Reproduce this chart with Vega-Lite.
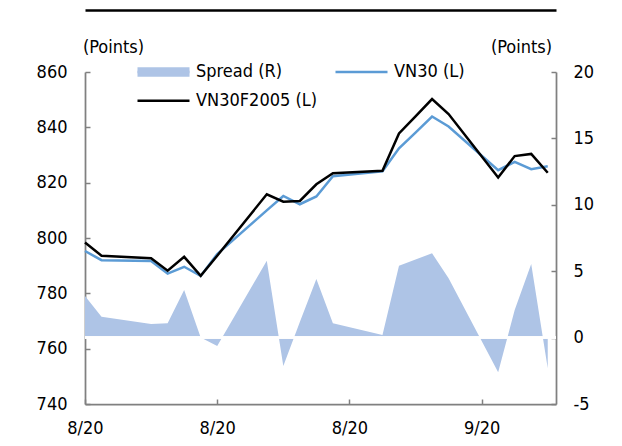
{
  "$schema": "https://vega.github.io/schema/vega-lite/v6.json",
  "width": 471,
  "height": 332,
  "autosize": "none",
  "padding": {"left": 85, "top": 72, "right": 66, "bottom": 42},
  "config": {
    "font": "DejaVu Sans Condensed, DejaVu Sans",
    "view": {"stroke": null},
    "axis": {
      "labelFontSize": 18,
      "titleFontSize": 18,
      "labelColor": "#000000",
      "titleColor": "#000000",
      "titleFontWeight": "normal",
      "domainColor": "#808080",
      "domainWidth": 1.75,
      "tickColor": "#808080",
      "tickWidth": 1.5,
      "tickSize": -5,
      "grid": false,
      "zindex": 1
    },
    "legend": {
      "title": null,
      "orient": "none",
      "legendX": 51,
      "legendY": -9,
      "columns": 2,
      "direction": "horizontal",
      "padding": 0,
      "labelFontSize": 18,
      "labelColor": "#000000",
      "labelOffset": 5,
      "symbolSize": 2704,
      "symbolStrokeWidth": 2.5,
      "clipHeight": 18,
      "rowPadding": 10.7,
      "columnPadding": 16
    }
  },
  "datasets": {
    "spread": [
      {"day": 0, "spread": 3.13},
      {"day": 1, "spread": 1.57},
      {"day": 4, "spread": 1.02},
      {"day": 5, "spread": 1.08},
      {"day": 6, "spread": 3.58},
      {"day": 7, "spread": 0.0},
      {"day": 8, "spread": -0.63},
      {"day": 11, "spread": 5.79},
      {"day": 12, "spread": -2.14},
      {"day": 13, "spread": 1.17},
      {"day": 14, "spread": 4.41},
      {"day": 15, "spread": 1.08},
      {"day": 18, "spread": 0.2},
      {"day": 19, "spread": 5.41},
      {"day": 20, "spread": 5.88},
      {"day": 21, "spread": 6.35},
      {"day": 22, "spread": 4.47},
      {"day": 25, "spread": -2.61},
      {"day": 26, "spread": 2.08},
      {"day": 27, "spread": 5.54},
      {"day": 28, "spread": -2.31}
    ],
    "lines": [
      {"day": 0, "series": "VN30 (L)", "value": 795.3},
      {"day": 1, "series": "VN30 (L)", "value": 792.0},
      {"day": 4, "series": "VN30 (L)", "value": 791.7},
      {"day": 5, "series": "VN30 (L)", "value": 787.1},
      {"day": 6, "series": "VN30 (L)", "value": 789.6},
      {"day": 7, "series": "VN30 (L)", "value": 786.3},
      {"day": 8, "series": "VN30 (L)", "value": 794.2},
      {"day": 11, "series": "VN30 (L)", "value": 810.0},
      {"day": 12, "series": "VN30 (L)", "value": 815.2},
      {"day": 13, "series": "VN30 (L)", "value": 812.2},
      {"day": 14, "series": "VN30 (L)", "value": 815.0},
      {"day": 15, "series": "VN30 (L)", "value": 822.3},
      {"day": 18, "series": "VN30 (L)", "value": 824.1},
      {"day": 19, "series": "VN30 (L)", "value": 832.4},
      {"day": 20, "series": "VN30 (L)", "value": 838.1},
      {"day": 21, "series": "VN30 (L)", "value": 843.9},
      {"day": 22, "series": "VN30 (L)", "value": 840.3},
      {"day": 25, "series": "VN30 (L)", "value": 824.5},
      {"day": 26, "series": "VN30 (L)", "value": 827.5},
      {"day": 27, "series": "VN30 (L)", "value": 824.9},
      {"day": 28, "series": "VN30 (L)", "value": 825.9},
      {"day": 0, "series": "VN30F2005 (L)", "value": 798.4},
      {"day": 1, "series": "VN30F2005 (L)", "value": 793.6},
      {"day": 4, "series": "VN30F2005 (L)", "value": 792.7},
      {"day": 5, "series": "VN30F2005 (L)", "value": 788.2},
      {"day": 6, "series": "VN30F2005 (L)", "value": 793.2},
      {"day": 7, "series": "VN30F2005 (L)", "value": 786.3},
      {"day": 8, "series": "VN30F2005 (L)", "value": 793.6},
      {"day": 11, "series": "VN30F2005 (L)", "value": 815.8},
      {"day": 12, "series": "VN30F2005 (L)", "value": 813.1},
      {"day": 13, "series": "VN30F2005 (L)", "value": 813.4},
      {"day": 14, "series": "VN30F2005 (L)", "value": 819.4},
      {"day": 15, "series": "VN30F2005 (L)", "value": 823.4},
      {"day": 18, "series": "VN30F2005 (L)", "value": 824.3},
      {"day": 19, "series": "VN30F2005 (L)", "value": 837.8},
      {"day": 20, "series": "VN30F2005 (L)", "value": 844.0},
      {"day": 21, "series": "VN30F2005 (L)", "value": 850.2},
      {"day": 22, "series": "VN30F2005 (L)", "value": 844.8},
      {"day": 25, "series": "VN30F2005 (L)", "value": 821.9},
      {"day": 26, "series": "VN30F2005 (L)", "value": 829.6},
      {"day": 27, "series": "VN30F2005 (L)", "value": 830.4},
      {"day": 28, "series": "VN30F2005 (L)", "value": 823.6}
    ]
  },
  "layer": [
    {
      "data": {"name": "spread"},
      "layer": [
        {
          "mark": {"type": "area", "opacity": 1},
          "encoding": {
            "x": {
              "field": "day",
              "type": "quantitative",
              "scale": {"domain": [0, 28.5], "nice": false, "zero": false},
              "axis": {
                "orient": "bottom",
                "title": null,
                "values": [0, 8, 16, 24],
                "labelExpr": "datum.value == 24 ? '9/20' : '8/20'",
                "labelPadding": 20,
                "labelFlush": false
              }
            },
            "y": {
              "field": "spread",
              "type": "quantitative",
              "scale": {"domain": [-5, 20], "nice": false},
              "axis": {
                "orient": "right",
                "values": [-5, 0, 5, 10, 15, 20],
                "labelExpr": "replace(datum.label, '\u2212', '-')",
                "labelPadding": 22,
                "title": "(Points)",
                "titleAngle": 0,
                "titleAlign": "center",
                "titleBaseline": "middle",
                "titleX": -35,
                "titleY": -25
              }
            },
            "fill": {
              "datum": "Spread (R)",
              "type": "nominal",
              "scale": {"domain": ["Spread (R)"], "range": ["#aec4e6"]},
              "legend": {
                "symbolType": "M-1,-0.18H1V0.18H-1Z",
                "symbolStrokeColor": "transparent",
                "symbolOpacity": 1,
                "labelOpacity": 0
              }
            }
          }
        },
        {
          "mark": {"type": "rule", "color": "#ffffff", "strokeWidth": 1.5},
          "encoding": {"y": {"datum": 0, "type": "quantitative"}}
        }
      ]
    },
    {
      "data": {"name": "lines"},
      "mark": {"type": "line", "strokeWidth": 2.5},
      "encoding": {
        "x": {
          "field": "day",
          "type": "quantitative",
          "scale": {"domain": [0, 28.5], "nice": false, "zero": false},
          "axis": {
            "orient": "top",
            "offset": 62,
            "labels": false,
            "ticks": false,
            "title": null,
            "domainColor": "#000000",
            "domainWidth": 2.5
          }
        },
        "y": {
          "field": "value",
          "type": "quantitative",
          "scale": {"domain": [740, 860], "nice": false, "zero": false},
          "axis": {
            "orient": "left",
            "values": [740, 760, 780, 800, 820, 840, 860],
            "labelPadding": 23,
            "title": "(Points)",
            "titleAngle": 0,
            "titleAlign": "center",
            "titleBaseline": "middle",
            "titleX": 28,
            "titleY": -25
          }
        },
        "color": {
          "field": "series",
          "type": "nominal",
          "sort": null,
          "scale": {
            "domain": ["Spread (R)", "VN30 (L)", "VN30F2005 (L)"],
            "range": ["#aec4e6", "#5b9bd5", "#000000"]
          },
          "legend": {"symbolType": "stroke"}
        }
      }
    }
  ],
  "resolve": {"scale": {"y": "independent"}, "axis": {"x": "independent"}}
}
